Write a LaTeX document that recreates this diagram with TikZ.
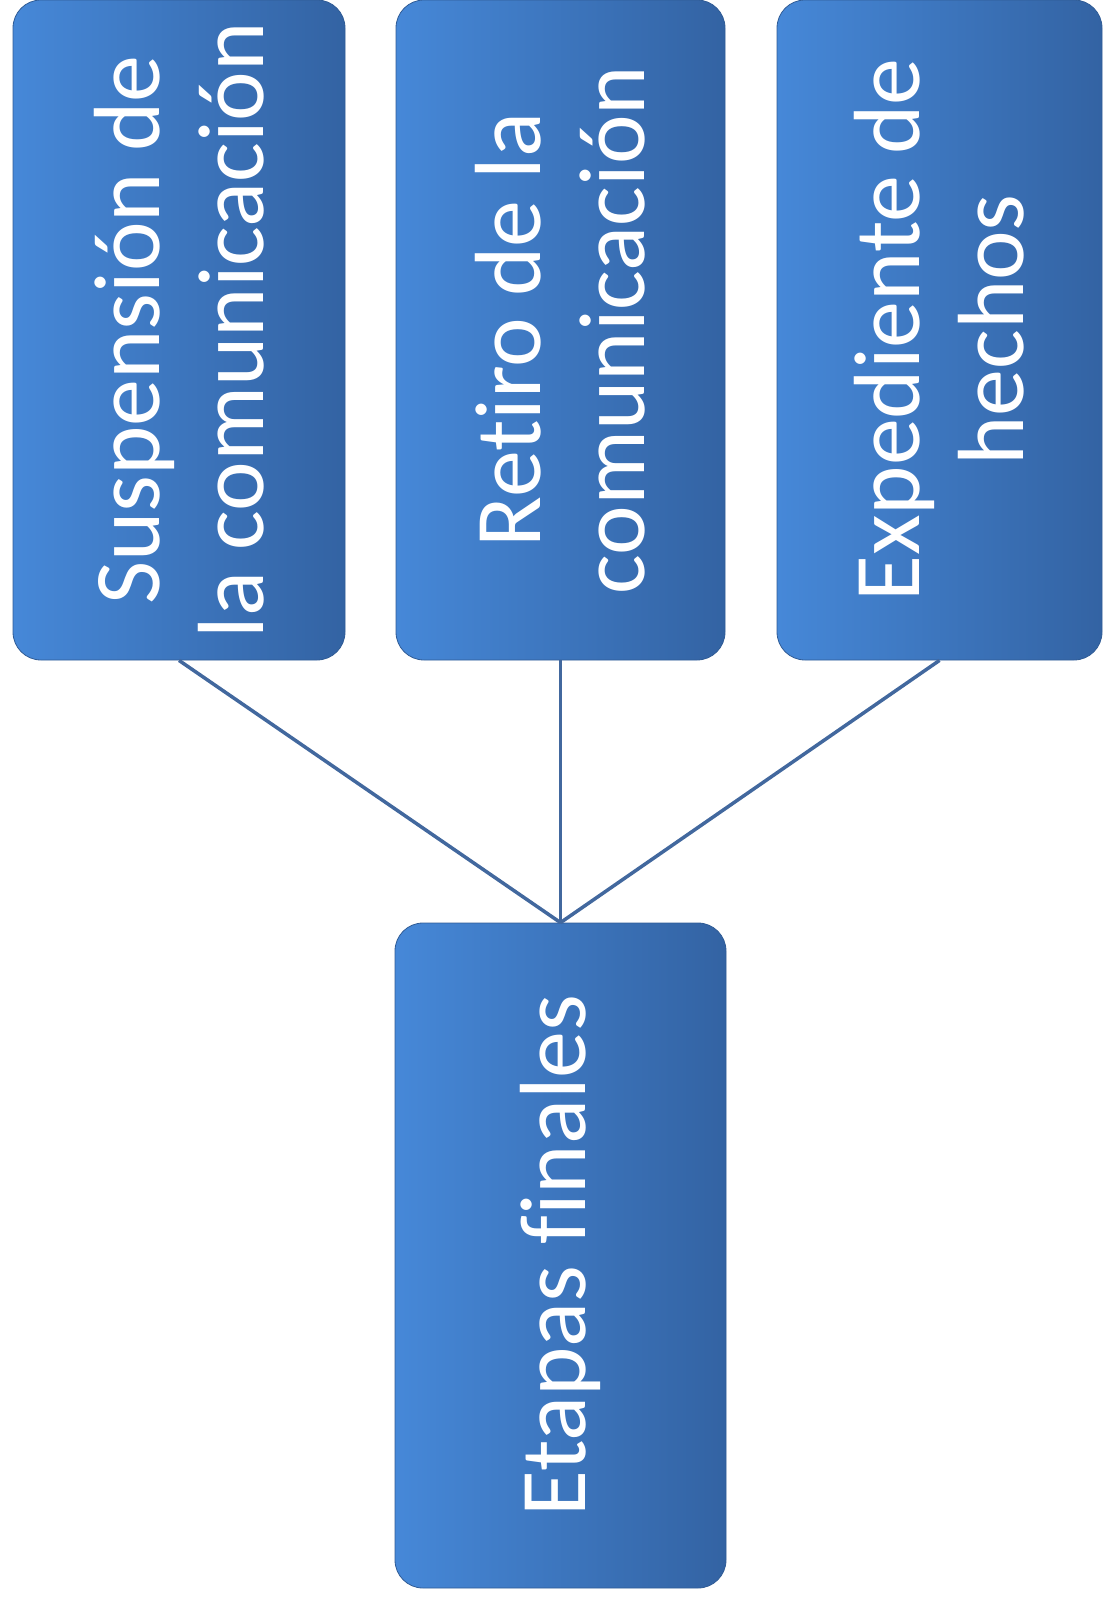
\documentclass[tikz,border=0pt]{standalone}
\usepackage{fontspec}
\setmainfont[Ligatures={NoCommon}]{Carlito}
\definecolor{boxL}{RGB}{70,136,216}
\definecolor{boxR}{RGB}{51,99,163}
\definecolor{boxEdge}{RGB}{48,92,150}
\definecolor{lineC}{RGB}{66,104,158}
\tikzset{
  boxnode/.style={rectangle, rounded corners=28pt, inner sep=0pt,
    left color=boxL, right color=boxR, draw=boxEdge, line width=0.8pt},
  labelnode/.style={rotate=90, text=white, align=center,
    font=\fontsize{94}{104}\selectfont, inner sep=0pt},
  conn/.style={draw=lineC, line width=3.5pt}
}
\begin{document}
\begin{tikzpicture}[x=1pt,y=-1pt]
\useasboundingbox (0,0) rectangle (1103,1602);
\node[boxnode, minimum width=332pt, minimum height=660pt] (b1) at (179,330) {};
\node[boxnode, minimum width=329pt, minimum height=660pt] (b2) at (560.5,330) {};
\node[boxnode, minimum width=325pt, minimum height=660pt] (b3) at (939.5,330) {};
\node[boxnode, minimum width=331pt, minimum height=665pt] (e) at (560.5,1255.5) {};
\node[labelnode] (t1) at (b1.center) {Suspensión de\\la comunicación};
\node[labelnode] (t2) at (b2.center) {Retiro de la\\comunicación};
\node[labelnode] (t3) at (b3.center) {Expediente de\\hechos};
\node[labelnode] (te) at (e.center) {Etapas finales};
\draw[conn] (b1.south) -- (e.north);
\draw[conn] (b2.south) -- (e.north);
\draw[conn] (b3.south) -- (e.north);
\end{tikzpicture}
\end{document}
